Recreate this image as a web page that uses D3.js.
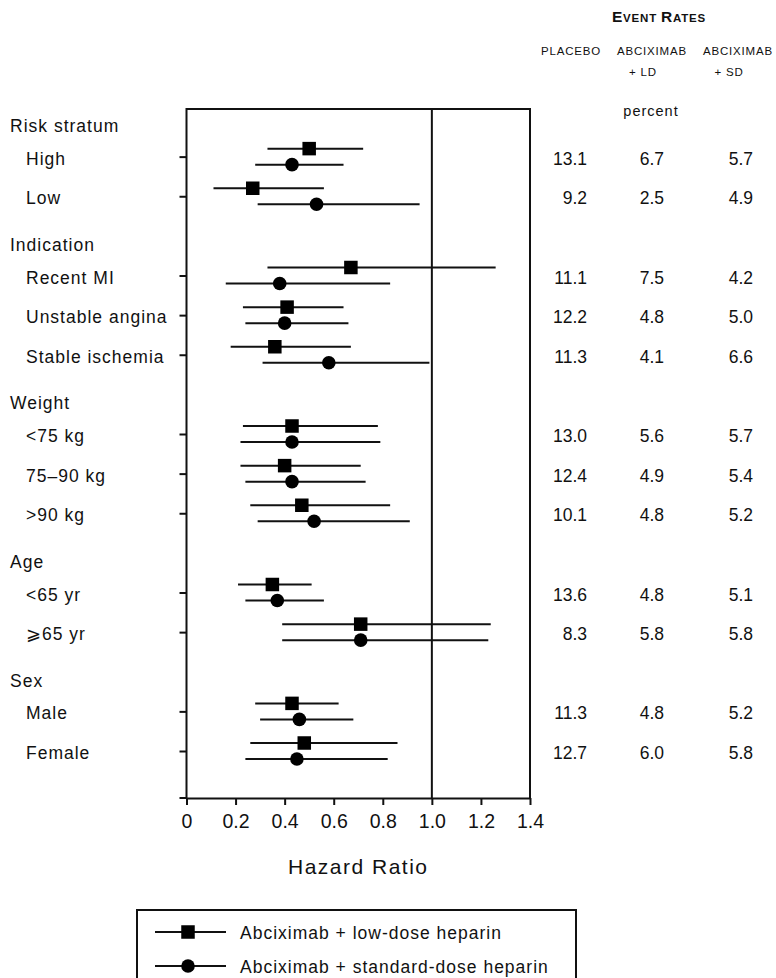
<!DOCTYPE html>
<html>
<head>
<meta charset="utf-8">
<script src="https://cdn.jsdelivr.net/npm/d3@7"></script>
<style>
  body { margin: 0; background: #fff; }
  text { font-family: "Liberation Sans", Arial, sans-serif; fill: #111; }
</style>
</head>
<body>
<script>
// groups and subgroups
var groups = ["Risk stratum", "Indication", "Weight", "Age", "Sex"];
var subgroups = ["High", "Low", "Recent MI", "Unstable angina", "Stable ischemia",
  "<75 kg", "75\u201390 kg", ">90 kg", "<65 yr", "\u2A7E65 yr", "Male", "Female"];
var groupOf = [0, 0, 1, 1, 1, 2, 2, 2, 3, 3, 4, 4];

// hazard ratios, abciximab + low-dose heparin
var ldHR = [0.50, 0.27, 0.67, 0.41, 0.36, 0.43, 0.40, 0.47, 0.35, 0.71, 0.43, 0.48];
var ldLo = [0.33, 0.11, 0.33, 0.23, 0.18, 0.23, 0.22, 0.26, 0.21, 0.39, 0.28, 0.26];
var ldHi = [0.72, 0.56, 1.26, 0.64, 0.67, 0.78, 0.71, 0.83, 0.51, 1.24, 0.62, 0.86];
// hazard ratios, abciximab + standard-dose heparin
var sdHR = [0.43, 0.53, 0.38, 0.40, 0.58, 0.43, 0.43, 0.52, 0.37, 0.71, 0.46, 0.45];
var sdLo = [0.28, 0.29, 0.16, 0.24, 0.31, 0.22, 0.24, 0.29, 0.24, 0.39, 0.30, 0.24];
var sdHi = [0.64, 0.95, 0.83, 0.66, 0.99, 0.79, 0.73, 0.91, 0.56, 1.23, 0.68, 0.82];

// event rates (percent)
var placebo = [13.1, 9.2, 11.1, 12.2, 11.3, 13.0, 12.4, 10.1, 13.6, 8.3, 11.3, 12.7];
var abcLD = [6.7, 2.5, 7.5, 4.8, 4.1, 5.6, 4.9, 4.8, 4.8, 5.8, 4.8, 6.0];
var abcSD = [5.7, 4.9, 4.2, 5.0, 6.6, 5.7, 5.4, 5.2, 5.1, 5.8, 5.2, 5.8];

var xTicks = [0, 0.2, 0.4, 0.6, 0.8, 1.0, 1.2, 1.4];
var seriesNames = ["Abciximab + low-dose heparin", "Abciximab + standard-dose heparin"];

var W = 776, H = 978;
var plotL = 186.5, plotR = 530, plotT = 109, plotB = 798;

var svg = d3.select("body").append("svg").attr("width", W).attr("height", H);

// row order: heading, then its subgroups
var rows = [];
groups.forEach(function (g, gi) {
  rows.push("g:" + g);
  subgroups.forEach(function (s, i) { if (groupOf[i] === gi) rows.push("s:" + s); });
});

var x = d3.scaleLinear().domain([0, 1.4]).range([plotL, plotR]);
var y = d3.scalePoint().domain(rows).range([117, 751]);

// box
svg.append("path")
  .attr("d", "M" + (plotL - 7) + "," + plotB + "H" + plotL + "V" + plotT + "H" + plotR + "V" + plotB)
  .attr("fill", "none").attr("stroke", "#111").attr("stroke-width", 2);

// x axis
var xAxis = svg.append("g")
  .attr("transform", "translate(0," + plotB + ")")
  .call(d3.axisBottom(x).tickValues(xTicks).tickSizeInner(7).tickSizeOuter(0).tickPadding(9)
    .tickFormat(function (d) { return d === 0 ? "0" : d3.format(".1f")(d); }));
xAxis.select(".domain").attr("stroke", "#111").attr("stroke-width", 2);
xAxis.selectAll(".tick line").attr("stroke", "#111").attr("stroke-width", 2);
xAxis.selectAll(".tick text").attr("font-size", 19.5).attr("font-family", "Liberation Sans, Arial, sans-serif").attr("fill", "#111");

svg.append("text").attr("x", x(0.7)).attr("y", 874).attr("text-anchor", "middle")
  .attr("font-size", 21).attr("letter-spacing", 1.5).text("Hazard Ratio");

// y ticks at subgroup rows
var yAxis = svg.append("g")
  .attr("transform", "translate(" + plotL + ",0)")
  .call(d3.axisLeft(y).tickValues(rows.filter(function (r) { return r[0] === "s"; }))
    .tickSize(7).tickFormat(""));
yAxis.select(".domain").remove();
yAxis.selectAll(".tick line").attr("stroke", "#111").attr("stroke-width", 2);

// reference line at 1
svg.append("line").attr("x1", x(1)).attr("x2", x(1)).attr("y1", plotT).attr("y2", plotB)
  .attr("stroke", "#111").attr("stroke-width", 2);

// row labels
svg.selectAll("text.row").data(rows).enter().append("text")
  .attr("class", "row")
  .attr("x", function (d) { return d[0] === "g" ? 10 : 26; })
  .attr("y", function (d) { return y(d) + (d[0] === "g" ? 15 : 8); })
  .attr("font-size", 17.5).attr("letter-spacing", 1)
  .text(function (d) { return d.slice(2); });

// CI lines and markers
var off = 8;
var idx = d3.range(subgroups.length);
function rowY(i) { return y("s:" + subgroups[i]); }

svg.selectAll("line.ld").data(idx).enter().append("line")
  .attr("x1", function (i) { return x(ldLo[i]); }).attr("x2", function (i) { return x(ldHi[i]); })
  .attr("y1", function (i) { return rowY(i) - off; }).attr("y2", function (i) { return rowY(i) - off; })
  .attr("stroke", "#111").attr("stroke-width", 2);
svg.selectAll("line.sd").data(idx).enter().append("line")
  .attr("x1", function (i) { return x(sdLo[i]); }).attr("x2", function (i) { return x(sdHi[i]); })
  .attr("y1", function (i) { return rowY(i) + off; }).attr("y2", function (i) { return rowY(i) + off; })
  .attr("stroke", "#111").attr("stroke-width", 2);

var sq = 13.5;
svg.selectAll("rect.ld").data(idx).enter().append("rect")
  .attr("x", function (i) { return x(ldHR[i]) - sq / 2; })
  .attr("y", function (i) { return rowY(i) - off - sq / 2; })
  .attr("width", sq).attr("height", sq).attr("fill", "#000");
svg.selectAll("circle.sd").data(idx).enter().append("circle")
  .attr("cx", function (i) { return x(sdHR[i]); })
  .attr("cy", function (i) { return rowY(i) + off; })
  .attr("r", 6.8).attr("fill", "#000");

// event rate header
var hdr = svg.append("text").attr("x", 659).attr("y", 22).attr("text-anchor", "middle")
  .attr("font-weight", "bold").attr("letter-spacing", 0.8);
hdr.append("tspan").attr("font-size", 15.5).text("E");
hdr.append("tspan").attr("font-size", 11.5).text("VENT ");
hdr.append("tspan").attr("font-size", 15.5).text("R");
hdr.append("tspan").attr("font-size", 11.5).text("ATES");

var colCenter = [571, 652, 738];
var colRight = [587, 664, 753];
var colHead = [["PLACEBO"], ["ABCIXIMAB", "+ LD"], ["ABCIXIMAB", "+ SD"]];
colHead.forEach(function (lines, c) {
  lines.forEach(function (t, k) {
    svg.append("text").attr("x", colCenter[c] - (k ? 9 : 0)).attr("y", 55 + k * 21)
      .attr("text-anchor", "middle").attr("font-size", 11.5).attr("letter-spacing", 0.8).text(t);
  });
});
svg.append("text").attr("x", 651).attr("y", 116).attr("text-anchor", "middle")
  .attr("font-size", 14.5).attr("letter-spacing", 1).text("percent");

[placebo, abcLD, abcSD].forEach(function (vals, c) {
  svg.selectAll("text.rate" + c).data(idx).enter().append("text")
    .attr("class", "rate" + c)
    .attr("x", colRight[c]).attr("y", function (i) { return rowY(i) + 8; })
    .attr("text-anchor", "end").attr("font-size", 17.5)
    .text(function (i) { return d3.format(".1f")(vals[i]); });
});

// legend
svg.append("rect").attr("x", 137).attr("y", 910).attr("width", 439).attr("height", 90)
  .attr("fill", "none").attr("stroke", "#111").attr("stroke-width", 2);
var leg = svg.selectAll("g.leg").data(seriesNames).enter().append("g")
  .attr("transform", function (d, i) { return "translate(0," + (932 + i * 34) + ")"; });
leg.append("line").attr("x1", 155).attr("x2", 226).attr("stroke", "#111").attr("stroke-width", 2);
leg.filter(function (d, i) { return i === 0; }).append("rect")
  .attr("x", 188 - sq / 2).attr("y", -sq / 2).attr("width", sq).attr("height", sq).attr("fill", "#000");
leg.filter(function (d, i) { return i === 1; }).append("circle")
  .attr("cx", 188).attr("r", 6.8).attr("fill", "#000");
leg.append("text").attr("x", 240).attr("y", 7).attr("font-size", 17.5).attr("letter-spacing", 1)
  .text(function (d) { return d; });
</script>
</body>
</html>
